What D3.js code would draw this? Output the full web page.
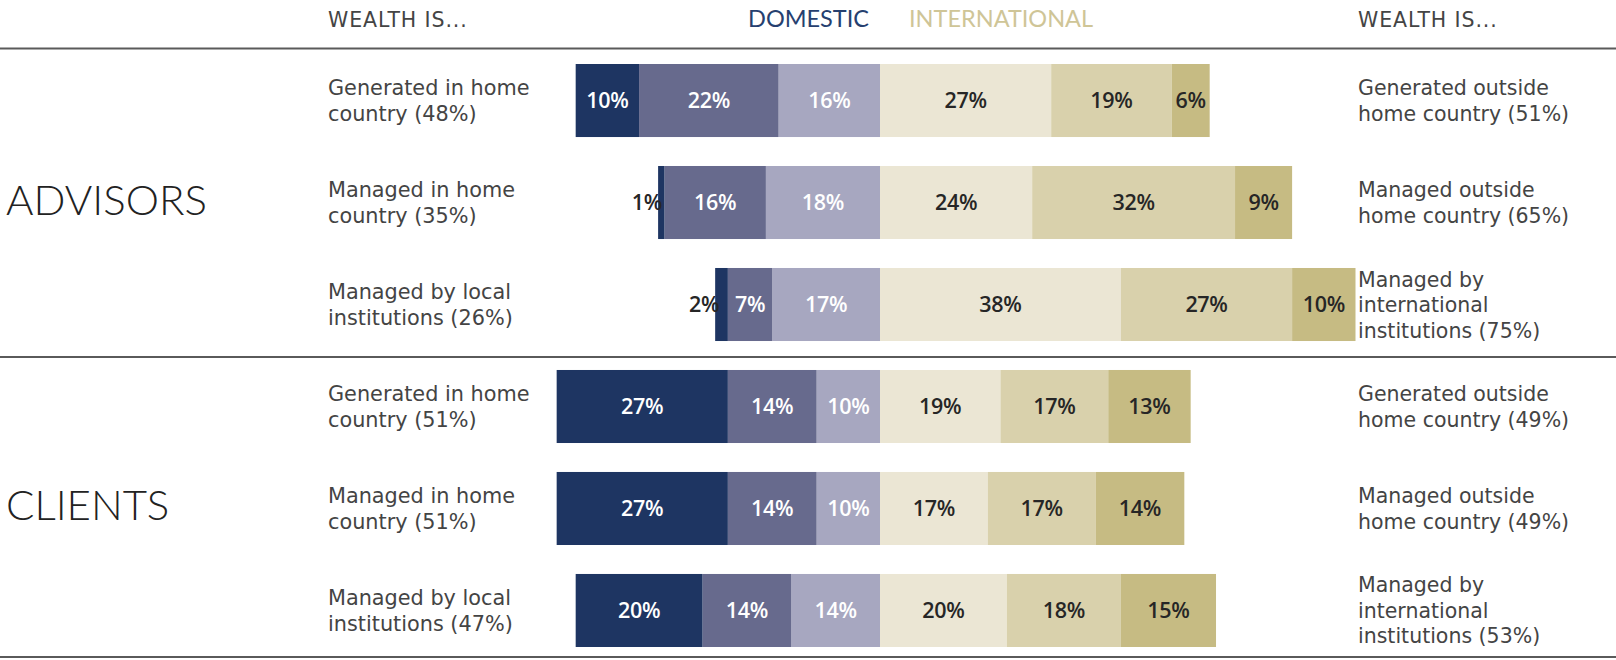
<!DOCTYPE html>
<html>
<head>
<meta charset="utf-8">
<script src="https://cdn.jsdelivr.net/npm/d3@7/dist/d3.min.js"></script>
<style>
  html, body { margin: 0; padding: 0; background: #fff; }
  svg { display: block; }
  text { font-family: Lato, "Open Sans", sans-serif; }
  text.num, .num text { font-family: "Open Sans", Lato, sans-serif; }
  text.desc, .desc text { font-family: "DejaVu Sans", "Open Sans", sans-serif; }
</style>
</head>
<body>
<svg id="chart" width="1616" height="660"></svg>
<script>
// Respondent groups and the rows each group spans
const groups = ["ADVISORS", "CLIENTS"];
const groupRows = [[0, 1, 2], [3, 4, 5]];

const rowKeys = ["a1", "a2", "a3", "c1", "c2", "c3"];

// Left-hand descriptions (domestic side)
const leftLabels = [
  ["Generated in home", "country (48%)"],
  ["Managed in home", "country (35%)"],
  ["Managed by local", "institutions (26%)"],
  ["Generated in home", "country (51%)"],
  ["Managed in home", "country (51%)"],
  ["Managed by local", "institutions (47%)"]
];

// Right-hand descriptions (international side)
const rightLabels = [
  ["Generated outside", "home country (51%)"],
  ["Managed outside", "home country (65%)"],
  ["Managed by", "international", "institutions (75%)"],
  ["Generated outside", "home country (49%)"],
  ["Managed outside", "home country (49%)"],
  ["Managed by", "international", "institutions (53%)"]
];

// Domestic shares, left to right: dark, mid, light (light sits against the centre)
const domestic = [
  [10, 22, 16],
  [1, 16, 18],
  [2, 7, 17],
  [27, 14, 10],
  [27, 14, 10],
  [20, 14, 14]
];

// International shares, left to right: light, mid, dark
const international = [
  [27, 19, 6],
  [24, 32, 9],
  [38, 27, 10],
  [19, 17, 13],
  [17, 17, 14],
  [20, 18, 15]
];

const domesticColors = ["#1e3562", "#676a8d", "#a7a7c0"];
const internationalColors = ["#ebe6d4", "#d9d1ac", "#c6bb83"];
const domesticText = "#ffffff";
const internationalText = "#262626";

const svg = d3.select("#chart");

const centre = 880;
const pxPerPct = 6.34;
const x = d3.scaleLinear()
  .domain([-100, 100])
  .range([centre - 100 * pxPerPct, centre + 100 * pxPerPct]);

const y = d3.scaleBand()
  .domain(rowKeys)
  .range([64, 647])
  .paddingInner(0.284)
  .paddingOuter(0);

// Segment records: domestic stacks leftwards from the centre, international rightwards
const segments = [];
rowKeys.forEach((key, i) => {
  const dom = domestic[i];
  let cursor = 0;
  for (let j = dom.length - 1; j >= 0; j--) {
    const x1 = -cursor;
    cursor += dom[j];
    segments.push({ row: key, side: "dom", idx: j, v: dom[j], x0: -cursor, x1: x1 });
  }
  const intl = international[i];
  cursor = 0;
  intl.forEach((v, j) => {
    segments.push({ row: key, side: "int", idx: j, v: v, x0: cursor, x1: cursor + v });
    cursor += v;
  });
});

svg.append("g")
  .selectAll("rect")
  .data(segments)
  .join("rect")
  .attr("x", d => x(d.x0))
  .attr("y", d => y(d.row))
  .attr("width", d => x(d.x1) - x(d.x0))
  .attr("height", y.bandwidth())
  .attr("fill", d => d.side === "dom" ? domesticColors[d.idx] : internationalColors[d.idx]);

// Value labels: centred in the segment, or set just left of the bar when the segment is too narrow
const valueLabels = svg.append("g")
  .attr("class", "num")
  .attr("font-size", 21.5)
  .attr("font-weight", 600)
  .attr("letter-spacing", -0.3);
valueLabels.selectAll("text")
  .data(segments)
  .join("text")
  .each(function (d) {
    const w = x(d.x1) - x(d.x0);
    const t = d3.select(this).text(d.v + "%");
    const cy = y(d.row) + y.bandwidth() / 2 + 7.5;
    if (w < 26) {
      t.attr("x", x(d.x0) + 4).attr("y", cy)
        .attr("text-anchor", "end").attr("fill", "#262626");
    } else {
      t.attr("x", (x(d.x0) + x(d.x1)) / 2).attr("y", cy)
        .attr("text-anchor", "middle")
        .attr("fill", d.side === "dom" ? domesticText : internationalText);
    }
  });

// Row descriptions on both sides, one text element per description with a tspan per line
const lineH = 25.5;
function multiline(sel, lines, xPos, cy) {
  const n = lines.length;
  const t = sel.append("text")
    .attr("x", xPos)
    .attr("y", cy - (n - 1) / 2 * lineH + 7.5);
  lines.forEach((ln, k) => {
    t.append("tspan")
      .attr("x", xPos)
      .attr("dy", k === 0 ? 0 : lineH)
      .text(ln);
  });
}

const leftG = svg.append("g").attr("class", "desc")
  .attr("font-size", 20.8).attr("fill", "#444");
const rightG = svg.append("g").attr("class", "desc")
  .attr("font-size", 20.5).attr("fill", "#444");
rowKeys.forEach((key, i) => {
  const cy = y(key) + y.bandwidth() / 2;
  multiline(leftG, leftLabels[i], 328, cy);
  multiline(rightG, rightLabels[i], 1358, cy);
});

// Group names
svg.append("g")
  .attr("font-size", 42)
  .attr("font-weight", 300)
  .attr("fill", "#222")
  .selectAll("text")
  .data(groups)
  .join("text")
  .attr("x", 6)
  .attr("y", (d, i) => {
    const rows = groupRows[i];
    const mid = (y(rowKeys[rows[0]]) + y(rowKeys[rows[rows.length - 1]]) + y.bandwidth()) / 2;
    return mid + 12;
  })
  .text(d => d);

// Header row
const header = svg.append("g");
header.append("text").attr("class", "desc").attr("x", 328).attr("y", 27).attr("font-size", 20.5)
  .attr("letter-spacing", 0.9).attr("fill", "#444").text("WEALTH IS...");
header.append("text").attr("class", "desc").attr("x", 1358).attr("y", 27).attr("font-size", 20.5)
  .attr("letter-spacing", 0.9).attr("fill", "#444").text("WEALTH IS...");
header.append("text").attr("x", 869).attr("y", 27).attr("font-size", 23.5).attr("font-weight", 400)
  .attr("text-anchor", "end").attr("fill", "#26406f").text("DOMESTIC");
header.append("text").attr("x", 909).attr("y", 27).attr("font-size", 23.5).attr("font-weight", 400)
  .attr("fill", "#cfc597").text("INTERNATIONAL");

// Rules: under the header, between the groups, and at the foot
const rules = [48.5, 357, 657];
svg.append("g")
  .selectAll("line")
  .data(rules)
  .join("line")
  .attr("x1", 0)
  .attr("x2", 1616)
  .attr("y1", d => d)
  .attr("y2", d => d)
  .attr("stroke", "#5a5a5a")
  .attr("stroke-width", 2);
</script>
</body>
</html>
